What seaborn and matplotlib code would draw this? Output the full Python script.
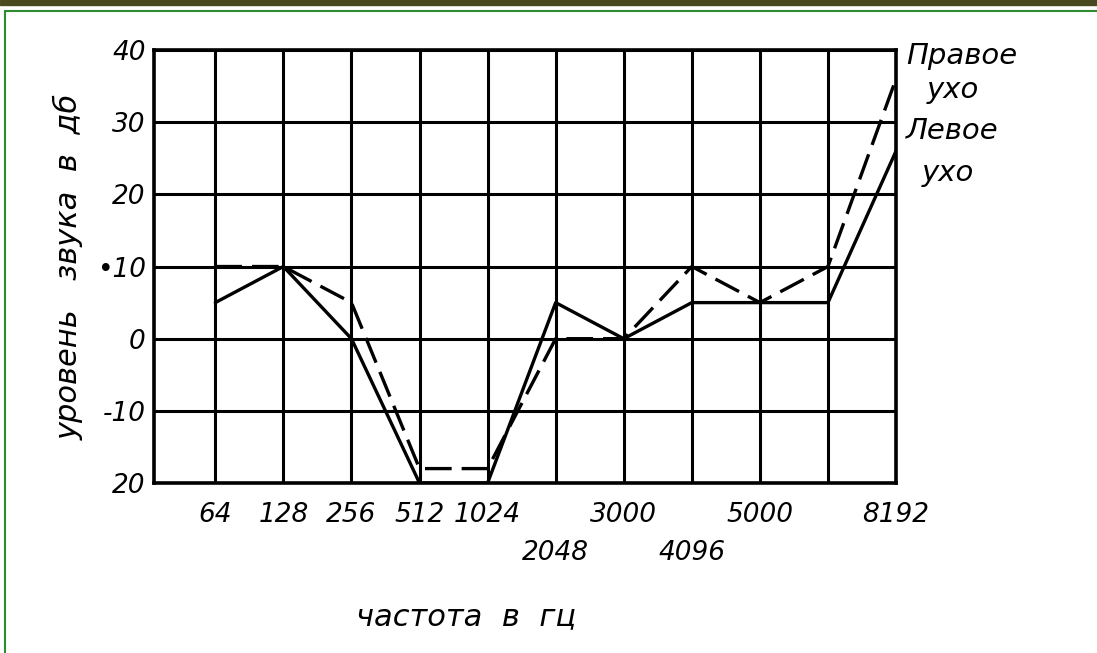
import numpy as np
import matplotlib
matplotlib.use("Agg")
import matplotlib.pyplot as plt
import seaborn as sns
import pandas as pd

# частоты (подписи оси x) и положения столбцов сетки
freq_labels = ["64", "128", "256", "512", "1024", "\n2048", "3000", "\n4096", "5000", "", "8192"]
freq_pos = [1, 2, 3, 4, 5, 6, 7, 8, 9, 10, 11]

# уровень звука в дб
left_ear = [5, 10, 0, -20, -20, 5, 0, 5, 5, 5, 26]      # сплошная
right_ear = [10, 10, 5, -18, -18, 0, 0, 10, 5, 10, 36]  # пунктир

y_ticks = [-20, -10, 0, 10, 20, 30, 40]
y_labels = ["20", "-10", "0", "•10", "20", "30", "40"]

df = pd.DataFrame({"pos": freq_pos, "left": left_ear, "right": right_ear})

sns.set_style("white")
plt.rcParams["font.family"] = ["DejaVu Sans"]
plt.rcParams["font.style"] = "italic"
plt.rcParams["text.color"] = "black"
plt.rcParams["axes.labelcolor"] = "black"
plt.rcParams["xtick.color"] = "black"
plt.rcParams["ytick.color"] = "black"

fig = plt.figure(figsize=(10.97, 6.53), dpi=100)
ax = fig.add_axes([0.1404, 0.2603, 0.6764, 0.6631])

sns.lineplot(x="pos", y="left", data=df, ax=ax, color="black", lw=2.4)
sns.lineplot(x="pos", y="right", data=df, ax=ax, color="black", lw=2.4)
ax.lines[-1].set_dashes((8, 3))

ax.set_xlim(0.1, 11)
ax.set_ylim(-20, 40)
ax.set_xticks(freq_pos)
ax.set_xticklabels(freq_labels, linespacing=1.6)
ax.set_yticks(y_ticks)
ax.set_yticklabels(y_labels)
ax.tick_params(length=0, labelsize=19)
ax.tick_params(axis="x", pad=14)
ax.tick_params(axis="y", pad=6)
ax.grid(True, color="black", lw=2.2)
ax.set_axisbelow(True)
for s in ax.spines.values():
    s.set_visible(True)
    s.set_color("black")
    s.set_linewidth(2.6)

ax.set_xlabel("частота  в  гц", fontsize=22)
ax.set_ylabel("уровень   звука  в  дб", fontsize=22)
ax.xaxis.set_label_coords(0.42, -0.275)
ax.yaxis.set_label_coords(-0.095, 0.5)

fig.text(0.826, 0.915, "Правое", fontsize=21, va="center")
fig.text(0.845, 0.862, "ухо", fontsize=21, va="center")
fig.text(0.826, 0.800, "Левое", fontsize=21, va="center")
fig.text(0.840, 0.735, "ухо", fontsize=21, va="center")

# рамка картинки
fig.patches.append(plt.Rectangle((0, 0.993), 1, 0.007, transform=fig.transFigure,
                                 color="#4a4a20", zorder=0))
fig.patches.append(plt.Rectangle((0.005, -0.01), 1.1, 0.993, transform=fig.transFigure,
                                 fill=False, edgecolor="#2e8b2e", lw=1.5, zorder=0))

fig.savefig("out.png", dpi=100)
